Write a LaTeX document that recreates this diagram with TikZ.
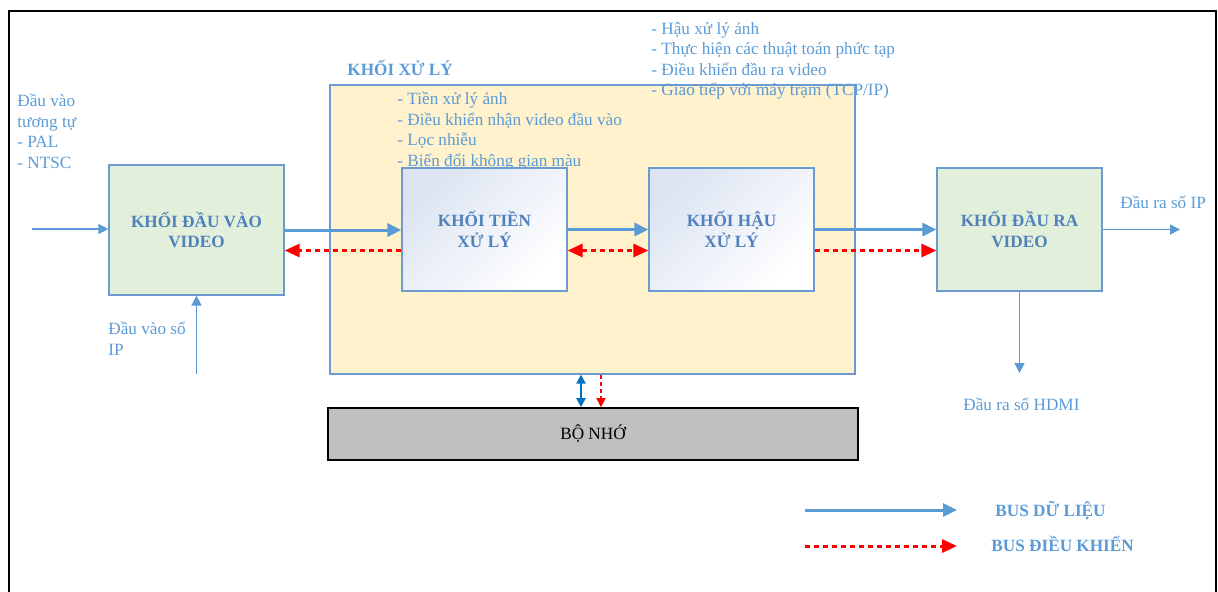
\documentclass[tikz,border=0pt]{standalone}
\usepackage{fontspec}
\setmainfont{Liberation Serif}
\usetikzlibrary{arrows.meta,positioning,calc}
\definecolor{txtblue}{HTML}{5B9BD5}
\definecolor{ttlblue}{HTML}{4F81BD}
\definecolor{edgeblue}{HTML}{6C9BD2}
\definecolor{fillgreen}{HTML}{E2EFDA}
\definecolor{fillyellow}{HTML}{FFF2CC}
\definecolor{fillgray}{HTML}{BFBFBF}
\definecolor{memblue}{HTML}{0070C0}
\definecolor{shadeblue}{HTML}{DCE4F2}
\newcommand\bodyfont{\fontsize{8.6}{10.2}\selectfont}

\begin{document}
\begin{tikzpicture}[x=0.5pt,y=-0.5pt,
  txt/.style={text=txtblue,inner sep=0pt,align=left,font=\bodyfont},
  blk/.style={draw=edgeblue,line width=0.6pt,inner sep=0pt,align=center,text=ttlblue,font=\bodyfont\bfseries},
  iobox/.style={blk,fill=fillgreen,minimum width=87.5pt,minimum height=65pt},
  subbox/.style={blk,top color=shadeblue,bottom color=white,shading angle=45,minimum width=82.5pt,minimum height=61.5pt},
  databus/.style={txtblue,line width=1.5pt,-{Triangle[length=7pt,width=6.5pt]}},
  ctrlbus/.style={red,line width=1.5pt,dash pattern=on 2.5pt off 2pt,-{Triangle[length=7.5pt,width=6.5pt]}},
  sig/.style={txtblue,line width=0.75pt,-{Triangle[length=5pt,width=5pt]}}]

\useasboundingbox (0,0) rectangle (1218,591);
\draw[line width=1pt] (9,620) -- (9,11) -- (1216,11) -- (1216,620);

\node[iobox] (in) at (196.5,230) {KHỐI ĐẦU VÀO\\VIDEO};
\node[draw=edgeblue,line width=0.6pt,fill=fillyellow,minimum width=262.5pt,minimum height=144.5pt] (proc) at (592.5,229.5) {};
\node[txt,font=\bodyfont\bfseries,anchor=base west] (proclbl) at (347,75) {KHỐI XỬ LÝ};

\node[txt,anchor=north west] (lstin) at (17,94) {Đầu vào\\tương tự\\- PAL\\- NTSC};
\node[txt,anchor=north west] (lstpre) at (397,92) {- Tiền xử lý ảnh\\- Điều khiển nhận video đầu vào\\- Lọc nhiễu\\- Biến đổi không gian màu};
\node[txt,anchor=north west] (lstpost) at (651,22) {- Hậu xử lý ảnh\\- Thực hiện các thuật toán phức tạp\\- Điều khiển đầu ra video\\- Giao tiếp với máy trạm (TCP/IP)};

\node[subbox] (pre) at (484.5,229.5) {KHỐI TIỀN\\XỬ LÝ};
\node[subbox] (post) at (731.5,229.5) {KHỐI HẬU\\XỬ LÝ};
\node[iobox,minimum width=82.5pt,minimum height=61.5pt] (out) at (1019.5,229.5) {KHỐI ĐẦU RA\\VIDEO};
\node[draw,line width=0.8pt,fill=fillgray,minimum width=265pt,minimum height=26pt,inner sep=0pt,font=\bodyfont] (mem) at (593,434) {BỘ NHỚ};

\node[txt,anchor=north west] (ipin) at (108,322) {Đầu vào số\\IP};
\node[txt,anchor=base west] (ipout) at (1120,208) {Đầu ra số IP};
\node[txt,anchor=base west] (hdmi) at (963,410) {Đầu ra số HDMI};

\coordinate (src) at (32,229);
\draw[sig] (src) -- (src -| in.west);
\coordinate (ipsrc) at (196.5,374);
\draw[sig] (ipsrc) -- (in.south);
\coordinate (ipdst) at (1180,229.5);
\draw[sig] (out.east) -- (ipdst);
\coordinate (hdmidst) at (1019.5,373);
\draw[sig] (out.south) -- (hdmidst);

\draw[databus] (in.east) -- (in.east -| pre.west);
\draw[databus] (pre.east) -- (post.west);
\draw[databus] (post.east) -- (out.west);

\coordinate (c1) at ([yshift=-10.5pt]pre.west);
\draw[ctrlbus] (c1) -- (c1 -| in.east);
\draw[ctrlbus,{Triangle[length=7.5pt,width=6.5pt]}-{Triangle[length=7.5pt,width=6.5pt]}] ([yshift=-10.5pt]pre.east) -- ([yshift=-10.5pt]post.west);
\draw[ctrlbus] ([yshift=-10.5pt]post.east) -- ([yshift=-10.5pt]out.west);

\coordinate (m1) at ([xshift=-5.75pt]proc.south);
\coordinate (m2) at ([xshift=4.25pt]proc.south);
\draw[memblue,line width=1pt,{Triangle[length=4.5pt,width=4.5pt]}-{Triangle[length=4.5pt,width=4.5pt]}] (m1) -- (m1 |- mem.north);
\draw[red,line width=0.8pt,dash pattern=on 2pt off 1.5pt,-{Triangle[length=4.5pt,width=4.5pt]}] (m2) -- (m2 |- mem.north);

\coordinate (k1a) at (805,510);
\coordinate (k1b) at (957,510);
\draw[databus] (k1a) -- (k1b);
\node[txt,font=\bodyfont\bfseries,anchor=base west] (k1) at (995,516) {BUS DỮ LIỆU};
\coordinate (k2a) at (805,546);
\coordinate (k2b) at (957,546);
\draw[ctrlbus] (k2a) -- (k2b);
\node[txt,font=\bodyfont\bfseries,anchor=base west] (k2) at (991,551) {BUS ĐIỀU KHIỂN};

\end{tikzpicture}
\end{document}
